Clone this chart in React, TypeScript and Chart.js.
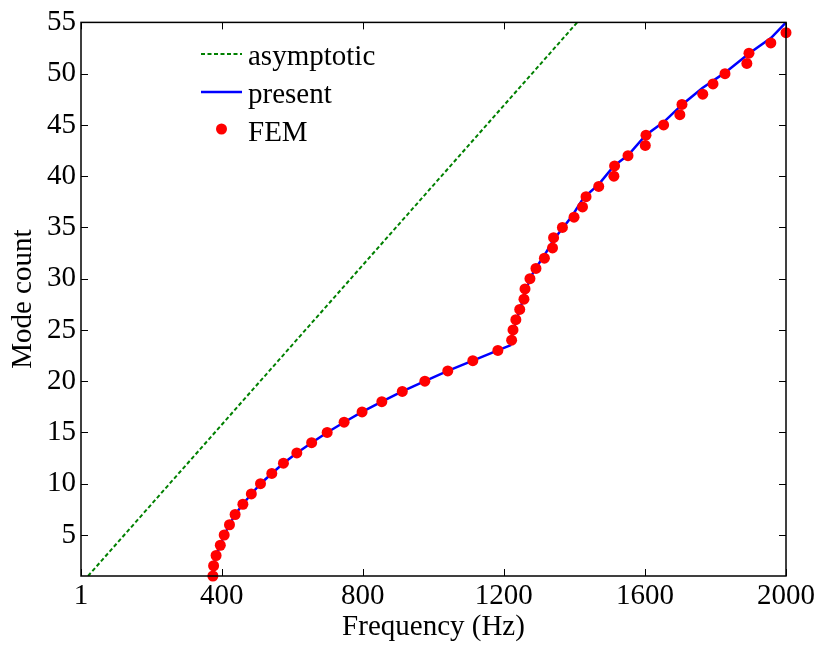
import React, { useEffect, useRef } from "react";
import { Chart, registerables } from "chart.js";

Chart.register(...registerables);

// ---- data ----
const freqTicks = [1, 400, 800, 1200, 1600, 2000];
const countTicks = [5, 10, 15, 20, 25, 30, 35, 40, 45, 50, 55];

const asymptoticFreq = [21, 1408];
const asymptoticCount = [1, 55];

const presentFreq = [
  374, 377, 384, 396, 407, 422, 438, 460, 484, 510, 542, 575, 613, 655, 699, 747,
  798, 854, 912, 976, 1041, 1112, 1183, 1218, 1227, 1250, 1274, 1288, 1317, 1341,
  1393, 1426, 1469, 1512, 1554, 1602, 1654, 1706, 1763, 1827, 1896, 1958, 2000,
];
const presentCount = [
  1, 2, 3, 4, 5, 6, 7, 8, 9, 10, 11, 12, 13, 14, 15, 16,
  17, 18, 19, 20, 21, 22, 23, 23.5, 25.0, 27.5, 30.0, 30.9, 32.4, 33.8,
  36.1, 37.9, 39.2, 41.0, 42.1, 44.0, 45.3, 47.0, 48.6, 50.1, 52.0, 53.5, 55,
];

const femFreq = [
  375, 377, 384, 396, 407, 422, 438, 460, 484, 510, 542, 575, 613, 655, 699, 747,
  798, 854, 912, 976, 1041, 1112, 1183, 1222, 1226, 1234, 1245, 1257, 1260, 1274,
  1291, 1315, 1338, 1341, 1366, 1399, 1423, 1433, 1469, 1512, 1514, 1552, 1601, 1603,
  1653, 1699, 1705, 1764, 1793, 1827, 1889, 1895, 1957, 2000,
];
const femCount = [
  1, 2, 3, 4, 5, 6, 7, 8, 9, 10, 11, 12, 13, 14, 15, 16,
  17, 18, 19, 20, 21, 22, 23, 24, 25, 26, 27, 28, 29, 30,
  31, 32, 33, 34, 35, 36, 37, 38, 39, 40, 41, 42, 43, 44,
  45, 46, 47, 48, 49, 50, 51, 52, 53, 54,
];

const seriesNames = ["asymptotic", "present", "FEM"];

const FONT = '"Liberation Serif", "Times New Roman", serif';
const FONT_SIZE = 29;

const toXY = (xs: number[], ys: number[]) => xs.map((x, i) => ({ x, y: ys[i] }));

const framePlugin = {
  id: "frame",
  afterDatasetsDraw(chart: any) {
    const { ctx, chartArea } = chart;
    const xs = chart.scales.x;
    const ys = chart.scales.y;
    const L = chartArea.left, R = chartArea.right, T = chartArea.top, B = chartArea.bottom;
    const tl = 7;
    ctx.save();
    ctx.strokeStyle = "#000";
    ctx.lineWidth = 1;
    ctx.beginPath();
    freqTicks.forEach((v) => {
      const px = Math.round(xs.getPixelForValue(v)) + 0.5;
      ctx.moveTo(px, B);
      ctx.lineTo(px, B - tl);
      ctx.moveTo(px, T);
      ctx.lineTo(px, T + tl);
    });
    countTicks.forEach((v) => {
      const py = Math.round(ys.getPixelForValue(v)) + 0.5;
      ctx.moveTo(L, py);
      ctx.lineTo(L + tl, py);
      ctx.moveTo(R, py);
      ctx.lineTo(R - tl, py);
    });
    ctx.stroke();
    ctx.lineWidth = 1.5;
    ctx.strokeRect(L, T, R - L, B - T);
    ctx.restore();
  },
};

const legendPlugin = {
  id: "customLegend",
  afterDraw(chart: any) {
    const { ctx } = chart;
    const rows = [
      { lineY: 54, textY: 65 },
      { lineY: 92, textY: 103 },
      { lineY: 129, textY: 141 },
    ];
    const x0 = 201, x1 = 242, tx = 248;
    ctx.save();
    chart.data.datasets.forEach((ds: any, i: number) => {
      const r = rows[i];
      if (ds.showLine) {
        ctx.beginPath();
        ctx.strokeStyle = ds.borderColor;
        ctx.lineWidth = ds.borderWidth;
        ctx.setLineDash(ds.borderDash || []);
        ctx.moveTo(x0, r.lineY);
        ctx.lineTo(x1, r.lineY);
        ctx.stroke();
        ctx.setLineDash([]);
      } else {
        ctx.beginPath();
        ctx.fillStyle = ds.backgroundColor;
        ctx.arc((x0 + x1) / 2, r.lineY, ds.pointRadius, 0, Math.PI * 2);
        ctx.fill();
      }
      ctx.fillStyle = "#000";
      ctx.font = `${FONT_SIZE}px ${FONT}`;
      ctx.textBaseline = "alphabetic";
      ctx.textAlign = "left";
      ctx.fillText(ds.label, tx, r.textY);
    });
    ctx.restore();
  },
};

export default function App() {
  const ref = useRef<HTMLCanvasElement>(null);

  useEffect(() => {
    if (!ref.current) return;
    const chart = new Chart(ref.current, {
      type: "scatter",
      data: {
        datasets: [
          {
            label: seriesNames[0],
            data: toXY(asymptoticFreq, asymptoticCount),
            showLine: true,
            borderColor: "#008000",
            backgroundColor: "#008000",
            borderWidth: 2,
            borderDash: [4, 2.5],
            pointRadius: 0,
            order: 2,
          },
          {
            label: seriesNames[1],
            data: toXY(presentFreq, presentCount),
            showLine: true,
            borderColor: "#0000ff",
            backgroundColor: "#0000ff",
            borderWidth: 2.5,
            pointRadius: 0,
            order: 1,
          },
          {
            label: seriesNames[2],
            data: toXY(femFreq, femCount),
            showLine: false,
            backgroundColor: "#ff0000",
            borderColor: "#ff0000",
            borderWidth: 0,
            pointRadius: 5.5,
            clip: false as any,
            order: 0,
          },
        ] as any,
      },
      options: {
        animation: false,
        responsive: false,
        devicePixelRatio: 1,
        layout: { padding: { left: 0, right: 35, top: 20, bottom: 0 } },
        plugins: { legend: { display: false }, tooltip: { enabled: false } },
        scales: {
          x: {
            type: "linear",
            min: 1,
            max: 2000,
            grid: { display: false, drawTicks: false },
            border: { display: false },
            afterBuildTicks: (s: any) => {
              s.ticks = freqTicks.map((v) => ({ value: v }));
            },
            afterFit: (s: any) => {
              s.height = 70;
            },
            ticks: {
              color: "#000",
              padding: 3,
              maxRotation: 0,
              autoSkip: false,
              font: { family: FONT, size: FONT_SIZE },
              callback: (v: any) => String(v),
            },
            title: {
              display: true,
              text: "Frequency (Hz)",
              color: "#000",
              font: { family: FONT, size: FONT_SIZE },
              padding: { top: 0, bottom: 1 },
            },
          },
          y: {
            type: "linear",
            min: 1,
            max: 55,
            grid: { display: false, drawTicks: false },
            border: { display: false },
            afterBuildTicks: (s: any) => {
              s.ticks = countTicks.map((v) => ({ value: v }));
            },
            afterFit: (s: any) => {
              s.width = 81;
            },
            ticks: {
              color: "#000",
              padding: 5,
              autoSkip: false,
              font: { family: FONT, size: FONT_SIZE },
              callback: (v: any) => String(v),
            },
            title: {
              display: true,
              text: "Mode count",
              color: "#000",
              font: { family: FONT, size: FONT_SIZE },
              padding: { top: 6, bottom: 0 },
            },
          },
        },
      },
      plugins: [framePlugin, legendPlugin],
    });
    return () => chart.destroy();
  }, []);

  return (
    <div style={{ position: "fixed", left: 0, top: 0, width: 821, height: 646, background: "#fff" }}>
      <canvas ref={ref} width={821} height={646} style={{ width: 821, height: 646, display: "block" }} />
    </div>
  );
}
